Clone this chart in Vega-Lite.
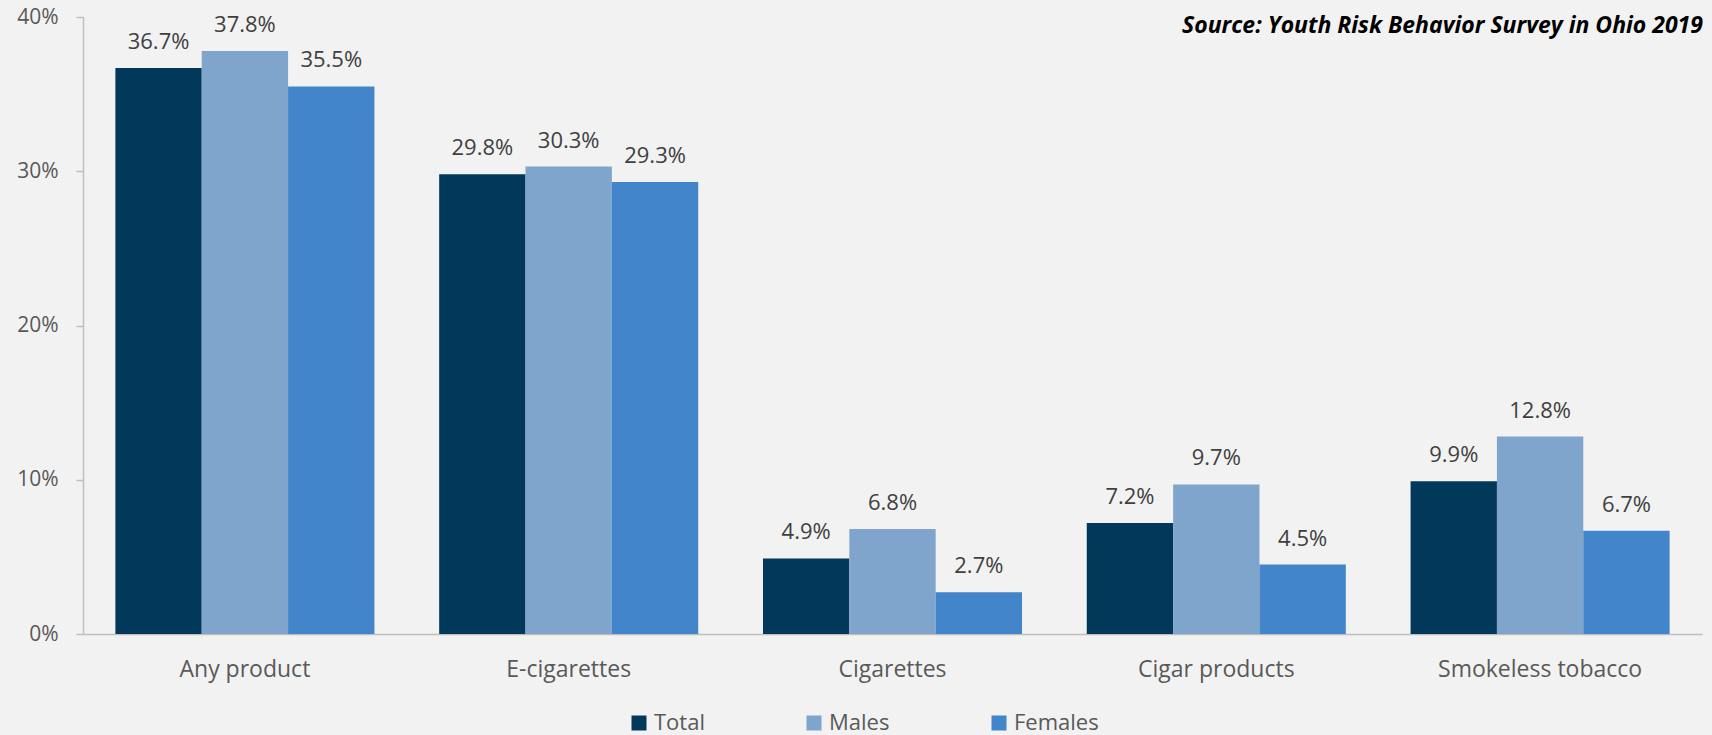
{
  "$schema": "https://vega.github.io/schema/vega-lite/v6.json",
  "width": 1619,
  "height": 617,
  "autosize": {"type": "none"},
  "padding": {"left": 83, "top": 17, "right": 10, "bottom": 101},
  "background": "#f2f2f2",
  "title": {
    "text": "Source: Youth Risk Behavior Survey in Ohio 2019",
    "anchor": "start",
    "frame": "group",
    "orient": "top",
    "dx": 1099,
    "dy": 50,
    "offset": 0,
    "baseline": "alphabetic",
    "font": "Open Sans",
    "fontSize": 23,
    "fontWeight": "bold",
    "fontStyle": "italic",
    "color": "#000000"
  },
  "config": {
    "view": {"stroke": null},
    "font": "Open Sans"
  },
  "data": {
    "values": [
      {"product": "Any product", "group": "Total", "value": 0.367},
      {"product": "Any product", "group": "Males", "value": 0.378},
      {"product": "Any product", "group": "Females", "value": 0.355},
      {"product": "E-cigarettes", "group": "Total", "value": 0.298},
      {"product": "E-cigarettes", "group": "Males", "value": 0.303},
      {"product": "E-cigarettes", "group": "Females", "value": 0.293},
      {"product": "Cigarettes", "group": "Total", "value": 0.049},
      {"product": "Cigarettes", "group": "Males", "value": 0.068},
      {"product": "Cigarettes", "group": "Females", "value": 0.027},
      {"product": "Cigar products", "group": "Total", "value": 0.072},
      {"product": "Cigar products", "group": "Males", "value": 0.097},
      {"product": "Cigar products", "group": "Females", "value": 0.045},
      {"product": "Smokeless tobacco", "group": "Total", "value": 0.099},
      {"product": "Smokeless tobacco", "group": "Males", "value": 0.128},
      {"product": "Smokeless tobacco", "group": "Females", "value": 0.067}
    ]
  },
  "encoding": {
    "x": {
      "field": "product",
      "type": "nominal",
      "sort": ["Any product", "E-cigarettes", "Cigarettes", "Cigar products", "Smokeless tobacco"],
      "scale": {"paddingInner": 0.2, "paddingOuter": 0.1},
      "axis": {
        "title": null,
        "labelAngle": 0,
        "labelLimit": 0,
        "ticks": false,
        "domainColor": "#bfbfbf",
        "domainWidth": 1.5,
        "labelFont": "Open Sans",
        "labelFontSize": 23,
        "labelColor": "#595959",
        "labelPadding": 24
      }
    },
    "xOffset": {
      "field": "group",
      "type": "nominal",
      "sort": ["Total", "Males", "Females"],
      "scale": {"paddingInner": 0, "paddingOuter": 0}
    },
    "y": {
      "field": "value",
      "type": "quantitative",
      "scale": {"domain": [0, 0.4]},
      "axis": {
        "title": null,
        "format": ".0%",
        "values": [0, 0.1, 0.2, 0.3, 0.4],
        "grid": false,
        "domainColor": "#bfbfbf",
        "domainWidth": 1.5,
        "tickColor": "#bfbfbf",
        "tickWidth": 1.5,
        "tickSize": 7,
        "labelPadding": 18,
        "labelFont": "Open Sans",
        "labelFontSize": 21,
        "labelColor": "#595959"
      }
    }
  },
  "layer": [
    {
      "mark": {"type": "bar"},
      "encoding": {
        "color": {
          "field": "group",
          "type": "nominal",
          "sort": ["Total", "Males", "Females"],
          "scale": {
            "domain": ["Total", "Males", "Females"],
            "range": ["#02385a", "#7fa5cd", "#4385cb"]
          },
          "legend": {
            "title": null,
            "orient": "none",
            "direction": "horizontal",
            "legendX": 545,
            "legendY": 695,
            "symbolType": "square",
            "symbolSize": 225,
            "symbolStrokeWidth": 0,
            "labelFont": "Open Sans",
            "labelFontSize": 22,
            "labelColor": "#595959",
            "labelOffset": 4,
            "columnPadding": 98
          }
        }
      }
    },
    {
      "mark": {
        "type": "text",
        "baseline": "alphabetic",
        "dy": -19,
        "font": "Open Sans",
        "fontSize": 22,
        "color": "#404040"
      },
      "encoding": {
        "text": {"field": "value", "type": "quantitative", "format": ".1%"}
      }
    }
  ]
}
